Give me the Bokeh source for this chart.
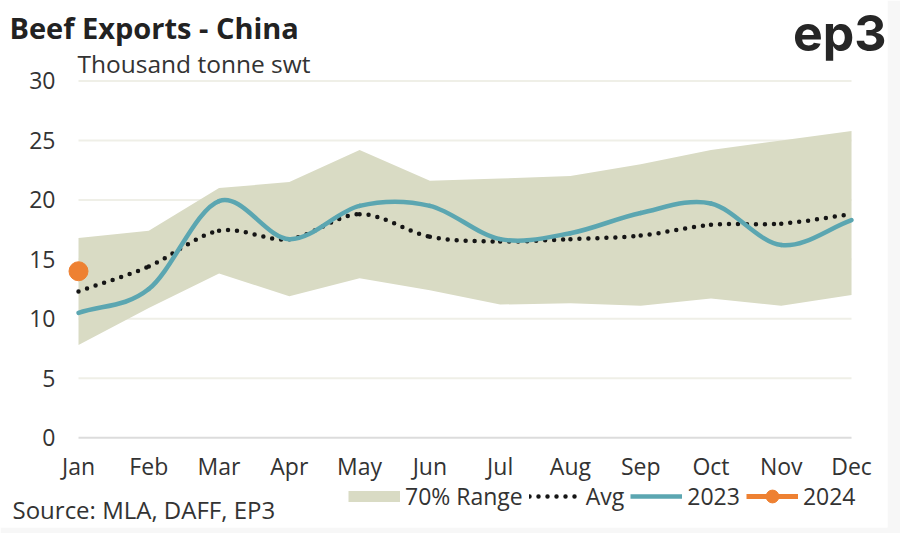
from bokeh.plotting import figure
from bokeh.models import Range1d, FixedTicker, Label, Legend, LegendItem
from bokeh.embed import file_html
from bokeh.resources import INLINE

# ---------------- data ----------------
months = ["Jan", "Feb", "Mar", "Apr", "May", "Jun", "Jul", "Aug", "Sep", "Oct", "Nov", "Dec"]
range_upper = [16.8, 17.4, 21.0, 21.5, 24.2, 21.6, 21.8, 22.0, 23.0, 24.2, 25.0, 25.8]
range_lower = [7.8, 10.9, 13.8, 11.9, 13.4, 12.4, 11.2, 11.3, 11.1, 11.7, 11.1, 12.0]
avg_vals = [12.3, 14.4, 17.4, 16.7, 18.8, 16.9, 16.5, 16.7, 17.0, 17.9, 18.0, 18.8]
y2023 = [10.5, 12.5, 19.9, 16.7, 19.5, 19.5, 16.7, 17.2, 18.9, 19.7, 16.2, 18.3]
y2024 = [14.0]
y_ticks = [0, 5, 10, 15, 20, 25, 30]

FONT = "Open Sans"
TXT = "#333333"
SAGE = "#d9dbc4"
TEAL = "#5ba6b1"
ORANGE = "#ee8132"
DOTS = "0 9"
NAN = float("nan")

xs = list(range(len(months)))


def bezier_source(vals):
    """Catmull-Rom curve through the points, expressed as cubic Bezier segments."""
    n = len(vals)
    slopes = []
    for i in range(n):
        if i == 0:
            slopes.append(vals[1] - vals[0])
        elif i == n - 1:
            slopes.append(vals[-1] - vals[-2])
        else:
            slopes.append((vals[i + 1] - vals[i - 1]) / 2.0)
    d = dict(x0=[], y0=[], x1=[], y1=[], cx0=[], cy0=[], cx1=[], cy1=[])
    for i in range(n - 1):
        d["x0"].append(xs[i]); d["y0"].append(vals[i])
        d["x1"].append(xs[i + 1]); d["y1"].append(vals[i + 1])
        d["cx0"].append(xs[i] + 1 / 3); d["cy0"].append(vals[i] + slopes[i] / 3)
        d["cx1"].append(xs[i + 1] - 1 / 3); d["cy1"].append(vals[i + 1] - slopes[i + 1] / 3)
    return d


p = figure(width=900, height=533, output_backend="svg", toolbar_location=None,
           x_range=Range1d(-1.110, 11.512), y_range=Range1d(-7.553, 36.77),
           min_border_left=0, min_border_right=13, min_border_top=0, min_border_bottom=6)
p.outline_line_color = None
p.background_fill_color = "white"
p.border_fill_color = "#f7f7f7"
p.xgrid.grid_line_color = None
p.ygrid.grid_line_color = None

# axes drawn at fixed data positions (inside the frame)
p.xaxis.ticker = FixedTicker(ticks=xs)
p.xaxis.major_label_overrides = {i: m for i, m in enumerate(months)}
p.yaxis.ticker = FixedTicker(ticks=y_ticks)
for ax in (p.xaxis[0], p.yaxis[0]):
    ax.axis_line_color = None
    ax.major_tick_line_color = None
    ax.minor_tick_line_color = None
    ax.major_tick_out = 0
    ax.major_tick_in = 0
    ax.major_label_text_font = FONT
    ax.major_label_text_font_size = "23px"
    ax.major_label_text_color = TXT
p.xaxis.fixed_location = y_ticks[0]
p.yaxis.fixed_location = xs[0]
p.xaxis.major_label_standoff = 12
p.yaxis.major_label_standoff = 23

# grid lines (between Jan and Dec only)
p.segment(x0=[xs[0]] * (len(y_ticks) - 1), x1=[xs[-1]] * (len(y_ticks) - 1),
          y0=y_ticks[1:], y1=y_ticks[1:], line_color="#efefe7", line_width=2)
p.segment(x0=[xs[0]], x1=[xs[-1]], y0=[y_ticks[0]], y1=[y_ticks[0]], line_color="#dcdcdc", line_width=2)

# range band
band = p.varea(x=xs, y1=range_lower, y2=range_upper, fill_color=SAGE)

# average (dotted, smooth)
p.bezier(source=bezier_source(avg_vals), x0="x0", y0="y0", x1="x1", y1="y1",
         cx0="cx0", cy0="cy0", cx1="cx1", cy1="cy1",
         line_color="#151515", line_width=4.5, line_dash=DOTS, line_cap="round")

# 2023 (smooth)
p.bezier(source=bezier_source(y2023), x0="x0", y0="y0", x1="x1", y1="y1",
         cx0="cx0", cy0="cy0", cx1="cx1", cy1="cy1",
         line_color=TEAL, line_width=4.5, line_cap="round")

# 2024
dot24 = p.scatter(x=xs[:len(y2024)], y=y2024, size=19, fill_color=ORANGE, line_color=ORANGE)

# legend proxies (no visible data)
leg_band = p.line(x=[xs[0]], y=[NAN], line_color=SAGE, line_width=11)
leg_avg = p.line(x=[xs[0]], y=[NAN], line_color="#151515", line_width=4.5, line_dash=DOTS, line_cap="round")
leg_23 = p.line(x=[xs[0]], y=[NAN], line_color=TEAL, line_width=4.5)
leg_24 = p.line(x=[xs[0]], y=[NAN], line_color=ORANGE, line_width=5)

legend = Legend(items=[
    LegendItem(label="70% Range", renderers=[leg_band]),
    LegendItem(label="Avg", renderers=[leg_avg]),
    LegendItem(label="2023", renderers=[leg_23]),
    LegendItem(label="2024", renderers=[leg_24, dot24]),
], orientation="horizontal", location=(348, 15))
legend.glyph_width = 52
legend.glyph_height = 32
legend.label_standoff = 5
legend.spacing = 6
legend.padding = 0
legend.margin = 0
legend.border_line_color = None
legend.background_fill_alpha = 0
legend.label_text_font = FONT
legend.label_text_font_size = "23px"
legend.label_text_color = TXT
p.add_layout(legend, "center")

# texts
p.add_layout(Label(x=9, y=500, x_units="screen", y_units="screen", text="Beef Exports - China",
                   text_font=FONT, text_font_size="29px", text_font_style="bold",
                   text_color="#222222", text_baseline="alphabetic"))
p.add_layout(Label(x=77, y=464, x_units="screen", y_units="screen", text="Thousand tonne swt",
                   text_font=FONT, text_font_size="24.5px",
                   text_color=TXT, text_baseline="alphabetic"))
p.add_layout(Label(x=886, y=495, x_units="screen", y_units="screen", text="ep3",
                   text_font="Inter", text_font_size="50px", text_font_style="bold",
                   text_color="#262626", text_baseline="alphabetic", text_align="right"))
p.add_layout(Label(x=12, y=18, x_units="screen", y_units="screen", text="Source: MLA, DAFF, EP3",
                   text_font=FONT, text_font_size="24px",
                   text_color=TXT, text_baseline="alphabetic"))

open("out.html", "w").write(file_html(p, INLINE))
